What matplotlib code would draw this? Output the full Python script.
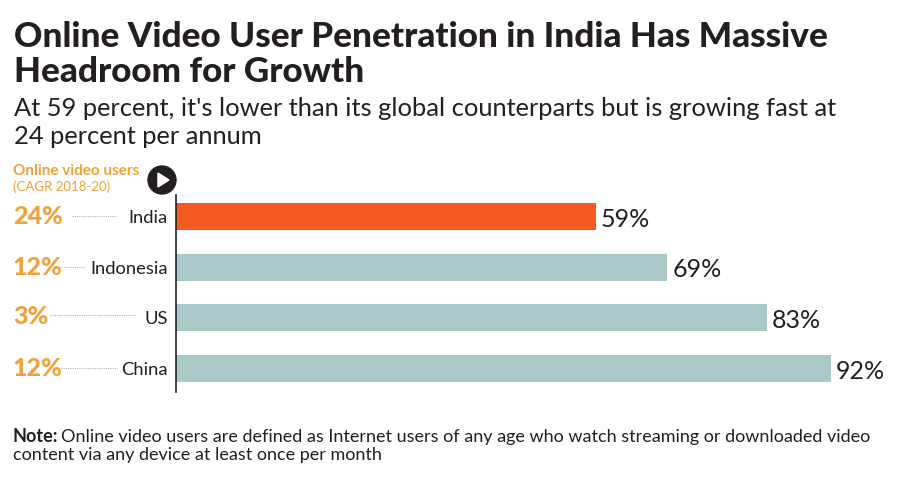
import matplotlib
matplotlib.use("Agg")
import matplotlib.pyplot as plt
from matplotlib.transforms import Affine2D

plt.rcParams["font.family"] = ["Lato", "DejaVu Sans"]

# data
countries = ["India", "Indonesia", "US", "China"]
penetration = [59, 69, 83, 92]
cagr = ["24%", "12%", "3%", "12%"]
bar_colors = ["#F55A22", "#A9C9C6", "#A9C9C6", "#A9C9C6"]

DARK = "#231F20"
ORANGE = "#F0A13A"
W, H = 900, 478

fig = plt.figure(figsize=(9, 4.78), dpi=100, facecolor="white")

# pixel coords, y going down, for the text and leader lines
px = Affine2D().scale(1 / W, -1 / H).translate(0, 1) + fig.transFigure


def put(x, y, s, **kw):
    kw.setdefault("color", DARK)
    kw.setdefault("va", "center")
    fig.text(x, y, s, transform=px, **kw)


# bars
ax = fig.add_axes([176 / W, 1 - 392 / H, (W - 176) / W, 197 / H])
ax.barh(range(4), penetration, height=0.534, color=bar_colors)
ax.set_xlim(0, (W - 176) / 7.12)
ax.set_ylim(3.468, -0.425)
ax.set_xticks([])
ax.set_yticks(range(4))
ax.set_yticklabels(countries, fontsize=13.2, color=DARK)
ax.tick_params(axis="y", length=0, pad=6)
for s in ["top", "right", "bottom"]:
    ax.spines[s].set_visible(False)
ax.spines["left"].set_linewidth(1.2)
ax.spines["left"].set_color(DARK)
ax.patch.set_alpha(0)

for i, v in enumerate(penetration):
    ax.annotate(f"{v}%", (v, i), xytext=(3.5, -2), textcoords="offset points",
                va="center", fontsize=18, color=DARK)

# title block
put(14, 37, "Online Video User Penetration in India Has Massive", fontsize=25.3, fontweight="black")
put(14, 72, "Headroom for Growth", fontsize=25.3, fontweight="black")
put(14, 109, "At 59 percent, it's lower than its global counterparts but is growing fast at", fontsize=18.35)
put(14, 137, "24 percent per annum", fontsize=18.35)

# CAGR column
put(13, 171, "Online video users", fontsize=11, fontweight="bold", color=ORANGE)
put(13, 187, "(CAGR 2018-20)", fontsize=9.5, color=ORANGE)
for y, lab in zip([217, 268, 317, 369], cagr):
    put(13, y, lab, fontsize=18, fontweight="black", color=ORANGE)

leaders = [(72, 116), (59, 85), (50, 136), (61, 117)]
for (x0, x1), y in zip(leaders, [216, 267, 315, 368]):
    fig.add_artist(plt.Line2D([x0, x1], [y, y], transform=px, color="#B5B5B5",
                              lw=0.8, ls=(0, (1, 1))))

# play icon
fig.add_artist(plt.Circle((162, 180), 14, transform=px, color=DARK))
fig.add_artist(plt.Polygon([(158, 173), (158, 187), (169, 180)], transform=px,
                           color="white"))

# note
put(13, 437, "Note:", fontsize=12.95, fontweight="bold")
put(61, 437, "Online video users are defined as Internet users of any age who watch streaming or downloaded video", fontsize=12.95)
put(13, 455, "content via any device at least once per month", fontsize=12.95)

fig.savefig("out.png", dpi=100)
